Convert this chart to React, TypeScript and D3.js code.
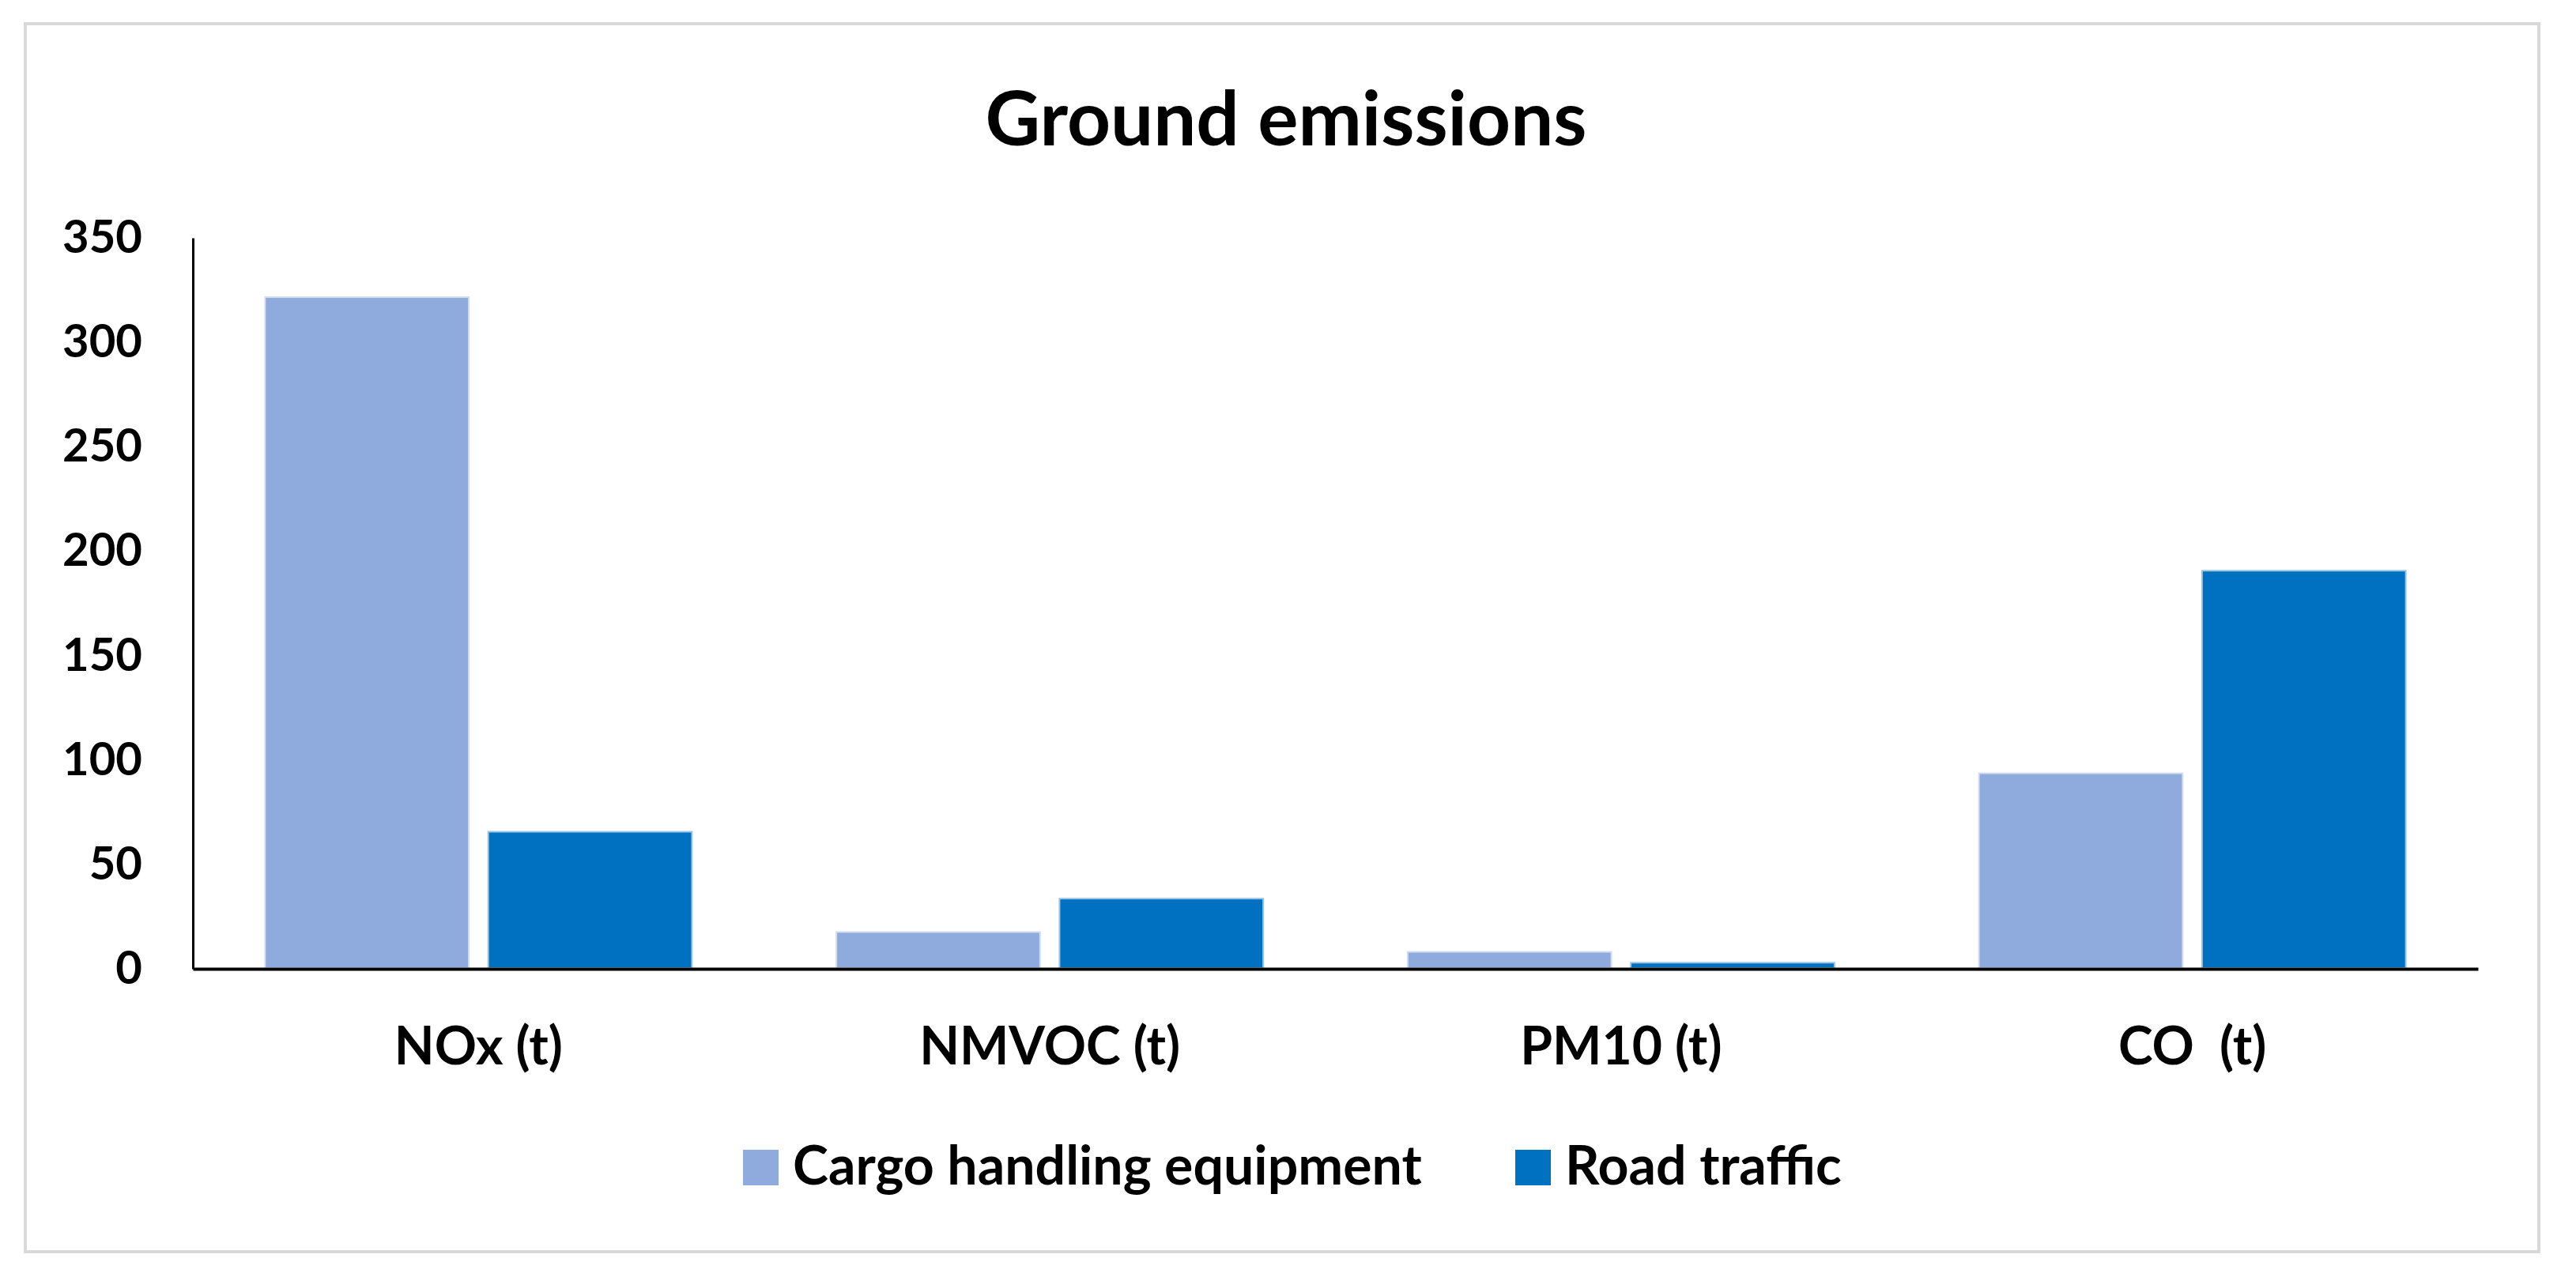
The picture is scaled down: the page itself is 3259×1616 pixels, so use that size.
import { useEffect, useRef } from 'react';
import * as d3 from 'd3';

const categories = ['NOx (t)', 'NMVOC (t)', 'PM10 (t)', 'CO  (t)'];
const seriesNames = ['Cargo handling equipment', 'Road traffic'];
const cargoValues = [322, 18, 8.5, 94];
const roadValues = [66, 34, 3.3, 191];
const yTicks = [0, 50, 100, 150, 200, 250, 300, 350];
const colors = ['#8faadc', '#0070c0'];

const W = 3259;
const H = 1616;
const FONT = 'Lato, "Open Sans", sans-serif';

export default function App() {
  const ref = useRef<SVGSVGElement | null>(null);

  useEffect(() => {
    if (!ref.current) return;
    const svg = d3.select(ref.current);
    svg.selectAll('*').remove();

    const margin = { top: 301, left: 244, right: W - 3135, bottom: H - 1226 };

    // outer frame
    svg.append('rect')
      .attr('x', 32)
      .attr('y', 30)
      .attr('width', 3212 - 32)
      .attr('height', 1584 - 30)
      .attr('fill', 'white')
      .attr('stroke', '#d9d9d9')
      .attr('stroke-width', 4);

    // title
    svg.append('text')
      .attr('x', 1627)
      .attr('y', 184)
      .attr('text-anchor', 'middle')
      .attr('font-family', FONT)
      .attr('font-weight', 'bold')
      .attr('font-size', 96)
      .attr('fill', '#000')
      .text('Ground emissions');

    const x0 = d3.scaleBand<string>()
      .domain(categories)
      .range([margin.left, W - margin.right])
      .paddingInner(0.25)
      .paddingOuter(0.125);

    const x1 = d3.scaleBand<string>()
      .domain(seriesNames)
      .range([0, x0.bandwidth()])
      .paddingInner(0.08);

    const y = d3.scaleLinear()
      .domain([0, 350])
      .range([H - margin.bottom, margin.top]);

    const rows = categories.map((c, i) => ({
      category: c,
      values: [cargoValues[i], roadValues[i]],
    }));

    // bars
    const groups = svg.append('g')
      .selectAll('g')
      .data(rows)
      .join('g')
      .attr('transform', d => `translate(${x0(d.category)},0)`);

    groups.selectAll('rect')
      .data(d => d.values.map((v, i) => ({ name: seriesNames[i], value: v, i })))
      .join('rect')
      .attr('x', d => x1(d.name)!)
      .attr('y', d => y(d.value))
      .attr('width', x1.bandwidth())
      .attr('height', d => y(0) - y(d.value))
      .attr('fill', d => colors[d.i])
      .attr('stroke', 'white')
      .attr('stroke-opacity', 0.6)
      .attr('stroke-width', 4);

    // Y axis
    const yAxis = svg.append('g')
      .attr('transform', `translate(${margin.left},0)`)
      .call(d3.axisLeft(y).tickValues(yTicks).tickSize(0).tickPadding(64));
    yAxis.select('.domain')
      .attr('stroke', '#000')
      .attr('stroke-width', 3);
    yAxis.selectAll('text')
      .attr('font-family', FONT)
      .attr('font-weight', 'bold')
      .attr('font-size', 58)
      .attr('fill', '#000');

    // X axis baseline + labels
    const xAxis = svg.append('g')
      .attr('transform', `translate(0,${y(0)})`)
      .call(d3.axisBottom(x0).tickSize(0).tickPadding(74));
    xAxis.select('.domain')
      .attr('stroke', '#000')
      .attr('stroke-width', 4);
    xAxis.selectAll('text')
      .attr('font-family', FONT)
      .attr('font-weight', 'bold')
      .attr('font-size', 66)
      .attr('fill', '#000')
      .style('white-space', 'pre');

    // legend
    const legendX = [940, 1917];
    const legend = svg.append('g')
      .selectAll('g')
      .data(seriesNames)
      .join('g')
      .attr('transform', (_, i) => `translate(${legendX[i]},1455)`);
    legend.append('rect')
      .attr('width', 45)
      .attr('height', 45)
      .attr('fill', (_, i) => colors[i]);
    legend.append('text')
      .attr('x', 63)
      .attr('y', 44)
      .attr('font-family', FONT)
      .attr('font-weight', 'bold')
      .attr('font-size', 68)
      .attr('fill', '#000')
      .text(d => d);
  }, []);

  return (
    <div style={{ position: 'absolute', left: 0, top: 0, background: 'white' }}>
      <svg ref={ref} width={W} height={H} style={{ display: 'block' }} />
    </div>
  );
}
